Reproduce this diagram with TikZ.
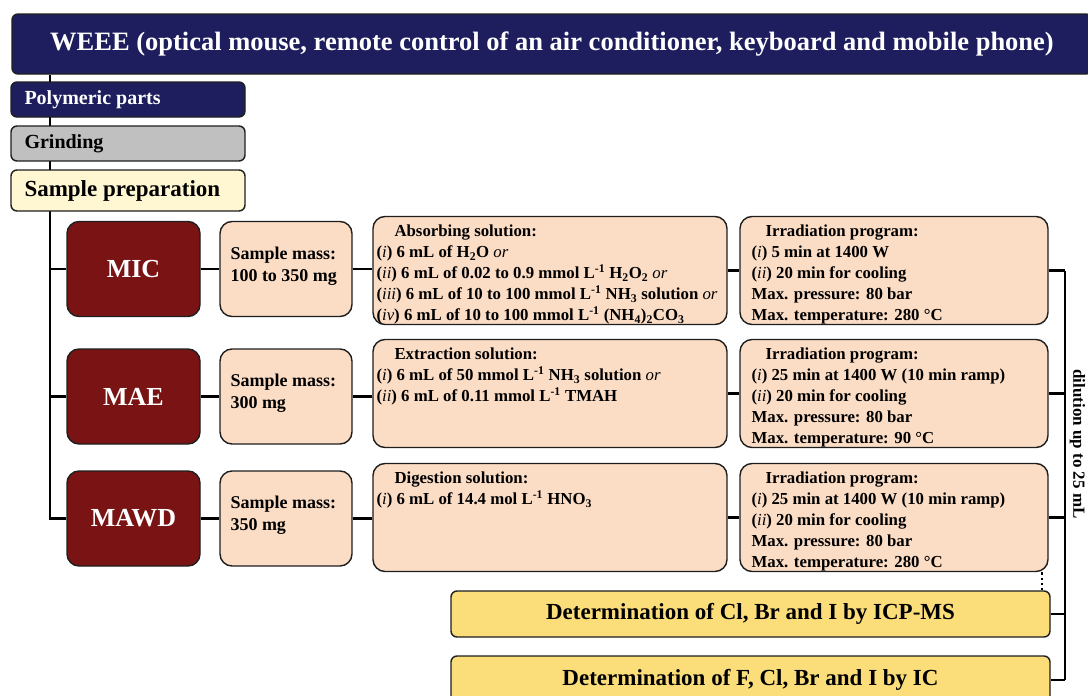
\documentclass[tikz,border=0pt]{standalone}
\usepackage{fontspec}
\setmainfont{Liberation Serif}
\usetikzlibrary{backgrounds}
\definecolor{navy}{RGB}{30,30,95}
\definecolor{greybox}{RGB}{192,192,192}
\definecolor{cream}{RGB}{255,246,210}
\definecolor{darkred}{RGB}{122,20,20}
\definecolor{peach}{RGB}{251,220,197}
\definecolor{yellowbox}{RGB}{251,221,122}
\definecolor{edge}{RGB}{30,30,30}
\newcommand\rn[1]{(\textnormal{\itshape #1})}
\newcommand\orw{\textnormal{\itshape or}}
\newcommand\sub[1]{\textsubscript{#1}}
\newcommand\supm{\textsuperscript{-1}}
\tikzset{
  box/.style={draw=edge, line width=1.4pt, inner sep=0pt},
  bigbox/.style={box, rounded corners=12pt},
  smallbox/.style={box, rounded corners=6pt},
  conn/.style={draw=black, line width=2.5pt},
  boxtext/.style={anchor=north west, align=left, inner sep=0pt, font=\fontsize{16.8}{21}\selectfont\bfseries},
  masstext/.style={anchor=west, align=left, inner sep=0pt, font=\fontsize{18}{22}\selectfont\bfseries},
  method/.style={bigbox, fill=darkred, text=white, font=\fontsize{26}{30}\selectfont\bfseries, minimum width=133pt, minimum height=95pt},
  massbox/.style={bigbox, fill=peach, minimum width=132pt, minimum height=95pt},
  solbox/.style={bigbox, fill=peach, minimum width=354pt, minimum height=108pt},
  irrbox/.style={bigbox, fill=peach, minimum width=308pt, minimum height=108pt},
  detbox/.style={smallbox, fill=yellowbox, minimum width=599pt, font=\fontsize{23}{26}\selectfont\bfseries},
}
\begin{document}
\begin{tikzpicture}[x=1pt,y=-1pt]
\useasboundingbox (0,0) rectangle (1088,696);
\clip (0,0) rectangle (1088,696);
\coordinate (spine) at (50,0);
\coordinate (rail) at (1065,0);
\coordinate (dotx) at (1042,0);

% top boxes
\node[smallbox, fill=navy, text=white, minimum width=1080pt, minimum height=60pt, font=\fontsize{26.5}{30}\selectfont\bfseries] (weee) at (552,44) {WEEE (optical mouse, remote control of an air conditioner, keyboard and mobile phone)};
\node[smallbox, fill=navy, minimum width=234pt, minimum height=35pt] (poly) at (128,99.5) {};
\node[anchor=west, inner sep=0pt, text=white, font=\fontsize{20}{22}\selectfont\bfseries] (polyt) at ([xshift=14pt]poly.west) {Polymeric parts};
\node[smallbox, fill=greybox, minimum width=234pt, minimum height=35pt] (grind) at (128,143.5) {};
\node[anchor=west, inner sep=0pt, font=\fontsize{20}{22}\selectfont\bfseries] (grindt) at ([xshift=14pt]grind.west) {Grinding};
\node[smallbox, fill=cream, minimum width=234pt, minimum height=41pt] (prep) at (128,190.5) {};
\node[anchor=west, inner sep=0pt, font=\fontsize{23}{26}\selectfont\bfseries] (prept) at ([xshift=14pt]prep.west) {Sample preparation};

% methods
\node[method] (mic) at (133.5,269) {MIC};
\node[method] (mae) at (133.5,396.5) {MAE};
\node[method] (mawd) at (133.5,518.5) {MAWD};

% sample mass
\node[massbox] (m1) at (286,269) {};
\node[masstext] (m1t) at ([xshift=11pt,yshift=3pt]m1.west) {Sample mass:\\100 to 350 mg};
\node[massbox] (m2) at (286,396.5) {};
\node[masstext] (m2t) at ([xshift=11pt,yshift=3pt]m2.west) {Sample mass:\\300 mg};
\node[massbox] (m3) at (286,518.5) {};
\node[masstext] (m3t) at ([xshift=11pt,yshift=3pt]m3.west) {Sample mass:\\350 mg};

% solutions
\node[solbox] (s1) at (550,270.5) {};
\node[boxtext] (s1t) at ([xshift=4pt,yshift=-9pt]s1.north west) {\hspace*{18pt}Absorbing solution:\\
\rn{i} 6 mL of H\sub{2}O \orw\\
\rn{ii} 6 mL of 0.02 to 0.9 mmol L\supm{} H\sub{2}O\sub{2} \orw\\
\rn{iii} 6 mL of 10 to 100 mmol L\supm{} NH\sub{3} solution \orw\\
\rn{iv} 6 mL of 10 to 100 mmol L\supm{} (NH\sub{4})\sub{2}CO\sub{3}};
\node[solbox] (s2) at (550,393.5) {};
\node[boxtext] (s2t) at ([xshift=4pt,yshift=-9pt]s2.north west) {\hspace*{18pt}Extraction solution:\\
\rn{i} 6 mL of 50 mmol L\supm{} NH\sub{3} solution \orw\\
\rn{ii} 6 mL of 0.11 mmol L\supm{} TMAH};
\node[solbox] (s3) at (550,517.5) {};
\node[boxtext] (s3t) at ([xshift=4pt,yshift=-9pt]s3.north west) {\hspace*{18pt}Digestion solution:\\
\rn{i} 6 mL of 14.4 mol L\supm{} HNO\sub{3}};

% irradiation
\node[irrbox] (r1) at (894,270.5) {};
\node[boxtext] (r1t) at ([xshift=12pt,yshift=-9pt]r1.north west) {\hspace*{14pt}Irradiation program:\\
\rn{i} 5 min at 1400 W\\
\rn{ii} 20 min for cooling\\
Max. pressure: 80 bar\\
Max. temperature: 280 °C};
\node[irrbox] (r2) at (894,393.5) {};
\node[boxtext] (r2t) at ([xshift=12pt,yshift=-9pt]r2.north west) {\hspace*{14pt}Irradiation program:\\
\rn{i} 25 min at 1400 W (10 min ramp)\\
\rn{ii} 20 min for cooling\\
Max. pressure: 80 bar\\
Max. temperature: 90 °C};
\node[irrbox] (r3) at (894,517.5) {};
\node[boxtext] (r3t) at ([xshift=12pt,yshift=-9pt]r3.north west) {\hspace*{14pt}Irradiation program:\\
\rn{i} 25 min at 1400 W (10 min ramp)\\
\rn{ii} 20 min for cooling\\
Max. pressure: 80 bar\\
Max. temperature: 280 °C};

% determination
\node[detbox, minimum height=46pt] (icp) at (750.5,614) {Determination of Cl, Br and I by ICP-MS};
\node[detbox, minimum height=48pt] (ic) at (750.5,680) {Determination of F, Cl, Br and I by IC};

\node[rotate=-90, inner sep=0pt, font=\fontsize{17}{19}\selectfont\bfseries] (dil) at (1077.5,444) {dilution up to 25 mL};

\begin{scope}[on background layer]
\draw[conn] (weee.south -| spine) |- (mawd.west);
\draw[conn] (spine |- mic.west) -- (mic.west);
\draw[conn] (spine |- mae.west) -- (mae.west);
\foreach \a/\b/\c/\d in {mic/m1/s1/r1, mae/m2/s2/r2, mawd/m3/s3/r3}{
  \draw[conn] (\a.east) -- (\b.west);
  \draw[conn] (\b.east) -- (\b.east -| \c.west);
  \draw[conn] (\c.east) -- (\d.west);
}
\draw[conn] (r1.east) -- (r1.east -| rail);
\draw[conn] (r2.east) -- (r2.east -| rail);
\draw[conn] (r3.east) -- (r3.east -| rail);
\draw[conn] (r1.east -| rail) -- (ic.east -| rail);
\draw[conn] (icp.east) -- (icp.east -| rail);
\draw[conn] (ic.east) -- (ic.east -| rail);
\draw[line width=2.4pt, dash pattern=on 2.4pt off 3pt] (r3.south -| dotx) -- (icp.north -| dotx);
\end{scope}
\end{tikzpicture}
\end{document}
